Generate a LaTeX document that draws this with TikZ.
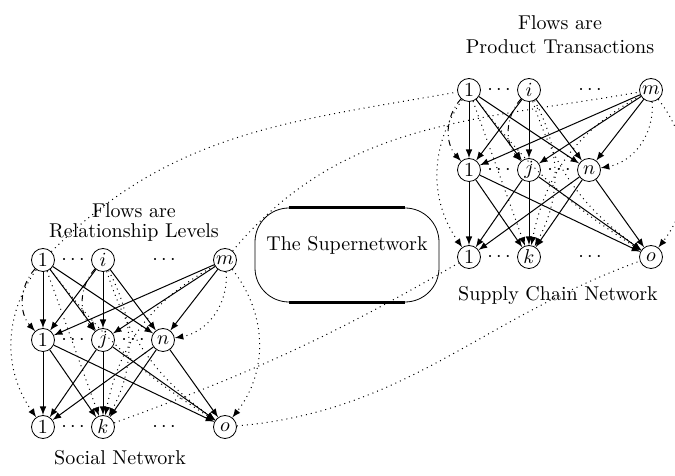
\documentclass[tikz,border=0pt]{standalone}
\usetikzlibrary{positioning}

\begin{document}
\begin{tikzpicture}[x=0.5pt,y=0.5pt]
    \tikzset{agent/.style={circle, draw, inner sep=0pt, minimum size=11.5pt},
      flow/.style={-latex, line width=0.5pt},
      eflow/.style={-latex, dotted, line width=0.5pt},
      bflow/.style={-latex, dashdotted, line width=0.5pt},
      link/.style={dotted, line width=0.5pt}
    }
    \useasboundingbox (0,0) rectangle (675,476);

    % the two tiered networks
    \foreach \net/\dx/\dy in {s/0/0, p/426/170} {
      \begin{scope}[shift={(\dx,\dy)}]
        \node[agent] (\net t1) at (43,216) {$1$};
        \node[agent] (\net ti) at (103,216) {$i$};
        \node[agent] (\net tm) at (225,216) {$m$};
        \node[agent] (\net m1) at (43,136) {$1$};
        \node[agent] (\net mj) at (103,136) {$j$};
        \node[agent] (\net mn) at (163,136) {$n$};
        \node[agent] (\net b1) at (43,49) {$1$};
        \node[agent] (\net bk) at (103,49) {$k$};
        \node[agent] (\net bo) at (225,49) {$o$};
        \node (\net dt1) at (73,216) {$\cdots$};
        \node (\net dt2) at (164,216) {$\cdots$};
        \node (\net dm1) at (73,136) {$\cdots$};
        \node (\net dm2) at (133,136) {$\cdots$};
        \node (\net db1) at (73,49) {$\cdots$};
        \node (\net db2) at (164,49) {$\cdots$};
      \end{scope}
    }

    \foreach \net in {s,p} {
      \foreach \a in {t1,ti,tm} \foreach \b in {m1,mj,mn} \draw[flow] (\net\a) -- (\net\b);
      \foreach \a in {m1,mj,mn} \foreach \b in {b1,bk,bo} \draw[flow] (\net\a) -- (\net\b);
      \draw[bflow] (\net t1) to[bend right=42] (\net m1);
      \draw[bflow] (\net ti) to[bend right=42] (\net mj);
      \draw[eflow] (\net tm) to[out=-85,in=10] (\net mn);
      \draw[eflow] (\net t1) to[bend right=35] (\net b1);
      \draw[eflow] (\net t1) -- (\net bk);
      \draw[eflow] (\net t1) to[bend right=10] (\net bo);
      \draw[eflow] (\net ti) to[bend left=28] (\net bk);
      \draw[eflow] (\net ti) to[bend right=18] (\net bo);
      \draw[eflow] (\net tm) to[bend right=25] (\net bk);
      \draw[eflow] (\net tm) to[bend left=38] (\net bo);
    }

    % the supernetwork
    \node[draw, rounded corners=17pt, minimum width=92pt, minimum height=47pt] (super) at (347,221) {};
    \node (supertext) at (347,231) {The Supernetwork};
    \draw[line width=1.2pt] ([xshift=17pt]super.north west) -- ([xshift=-17pt]super.north east);
    \draw[line width=1.2pt] ([xshift=17pt]super.south west) -- ([xshift=-17pt]super.south east);

    \draw[link] (st1) to[out=45,in=190] (pt1);
    \draw[link] (stm) to[out=50,in=190] (ptm);
    \draw[link] (sbk) to[out=20,in=210] (pb1);
    \draw[link] (sbo) to[out=5,in=200] (pbo);

    \node[align=center] (slabel) at (134,253) {Flows are\\[-2pt]Relationship Levels};
    \node[align=center] (plabel) at (560,441) {Flows are\\Product Transactions};
    \node (sname) at (120,18) {Social Network};
    \node (pname) at (558,180) {Supply Chain Network};
\end{tikzpicture}
\end{document}
